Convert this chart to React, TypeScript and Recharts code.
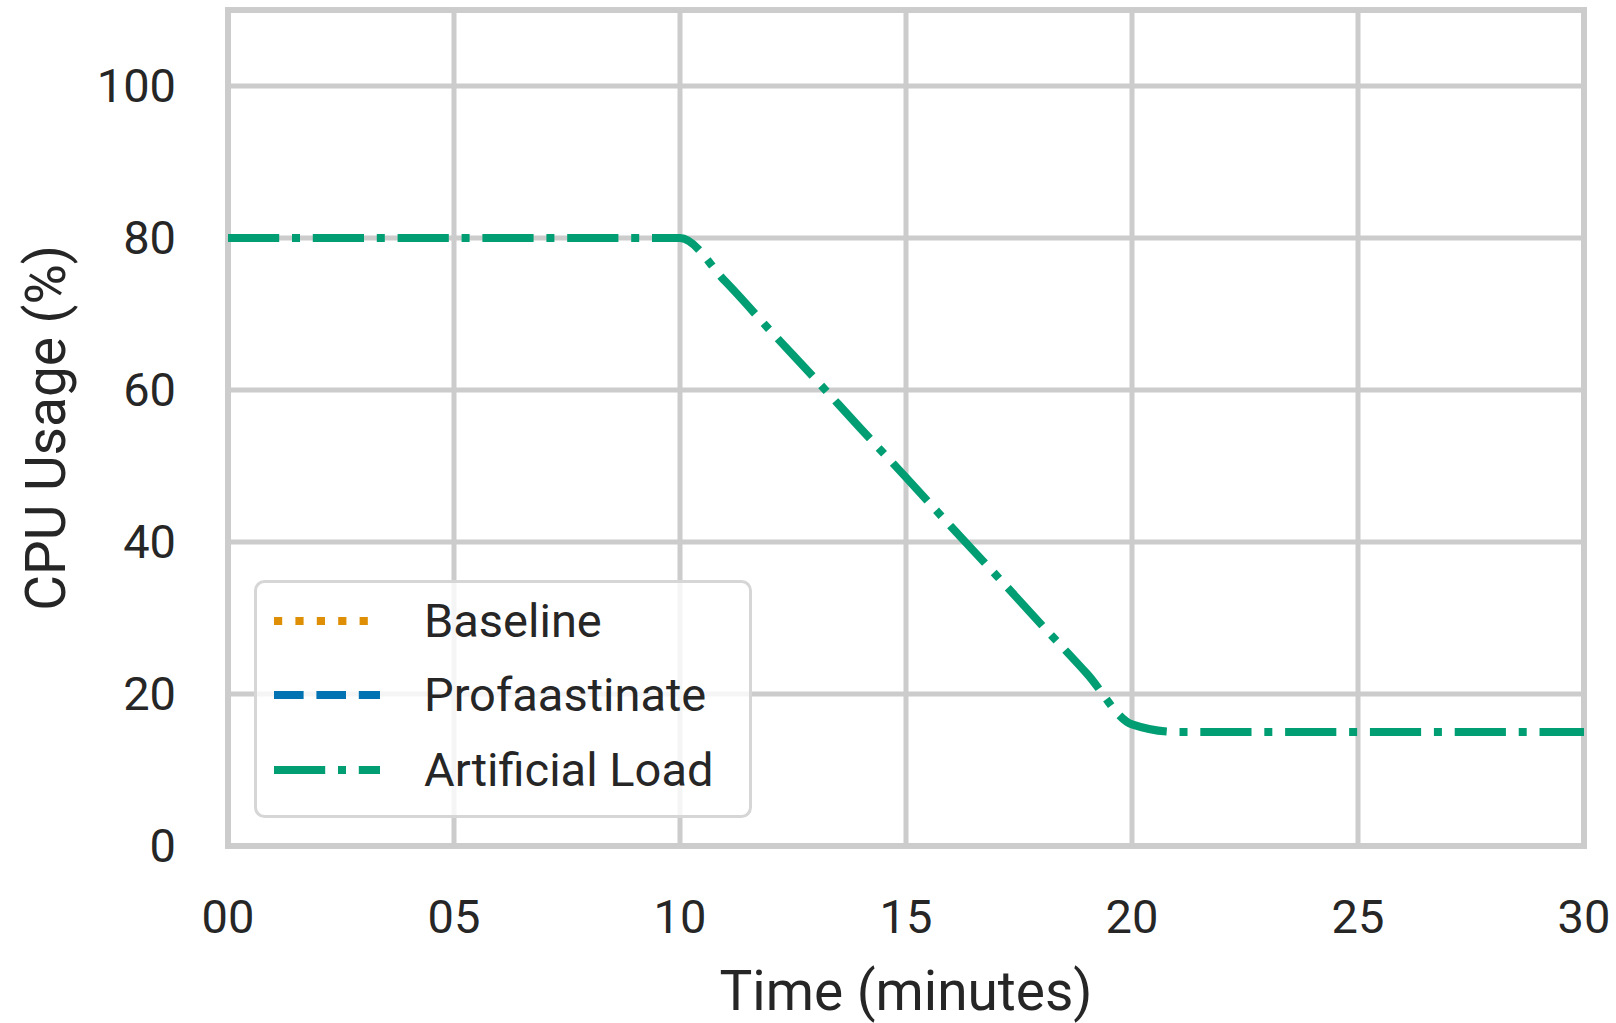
import React from 'react';
import { LineChart, Line, XAxis, YAxis, CartesianGrid, ReferenceArea } from 'recharts';

const minutes = [0, 1, 2, 3, 4, 5, 6, 7, 8, 9, 10, 11, 12, 13, 14, 15, 16, 17, 18, 19, 20, 21, 22, 23, 24, 25, 26, 27, 28, 29, 30];
const artificialLoad = [80, 80, 80, 80, 80, 80, 80, 80, 80, 80, 80, 74.3, 67.8, 61.4, 54.9, 48.5, 42.0, 35.6, 29.1, 22.7, 16.0, 15, 15, 15, 15, 15, 15, 15, 15, 15, 15];

const xTicks = [0, 5, 10, 15, 20, 25, 30];
const yTicks = [0, 20, 40, 60, 80, 100];

const seriesNames = ['Baseline', 'Profaastinate', 'Artificial Load'];
const seriesColors = ['#DE8F05', '#0173B2', '#029E73'];
const seriesDashes = ['8.2 13.2', '29.6 12.8', '51.2 12.8 8 12.8'];

const data = minutes.map((t, i) => ({ t, load: artificialLoad[i] }));

const FONT = 'Roboto, "Open Sans", sans-serif';
const TEXT = '#262626';
const GRID = '#cccccc';
const FS = 47;
const TITLE_FS = 55;

const XTick = (props: any) => (
  <text x={props.x} y={props.y} dy="0.35em" textAnchor="middle" fill={TEXT} fontSize={FS} fontFamily={FONT}>
    {String(props.payload.value).padStart(2, '0')}
  </text>
);

const YTick = (props: any) => (
  <text x={props.x} y={props.y} dy="0.35em" textAnchor="end" fill={TEXT} fontSize={FS} fontFamily={FONT}>
    {props.payload.value}
  </text>
);

const XLabel = (props: any) => {
  const vb = props.viewBox;
  return (
    <text x={vb.x + vb.width / 2} y={vb.y + 145} dy="0.35em" textAnchor="middle" fill={TEXT} fontSize={TITLE_FS} fontFamily={FONT}>
      Time (minutes)
    </text>
  );
};

const YLabel = (props: any) => {
  const vb = props.viewBox;
  const cx = vb.x + 46;
  const cy = vb.y + vb.height / 2;
  return (
    <text x={cx} y={cy} dy="0.35em" textAnchor="middle" fill={TEXT} fontSize={TITLE_FS} fontFamily={FONT} transform={`rotate(-90 ${cx} ${cy})`}>
      CPU Usage (%)
    </text>
  );
};

const LegendBox = () => {
  const w = 498;
  const h = 238;
  const rows = [41, 115, 190];
  return (
    <svg width={w} height={h} style={{ position: 'absolute', left: 254, top: 580 }}>
      <rect x={1.5} y={1.5} width={w - 3} height={h - 3} rx={9} ry={9} fill="#ffffff" fillOpacity={0.8} stroke="#d6d6d6" strokeWidth={3} />
      {seriesNames.map((name, i) => (
        <g key={name}>
          <line x1={20} x2={126} y1={rows[i]} y2={rows[i]} stroke={seriesColors[i]} strokeWidth={8} strokeDasharray={seriesDashes[i]} />
          <text x={170} y={rows[i]} dy="0.35em" fill={TEXT} fontSize={FS} fontFamily={FONT}>
            {name}
          </text>
        </g>
      ))}
    </svg>
  );
};

export default function App() {
  return (
    <div style={{ position: 'absolute', left: 0, top: 0, width: 1616, height: 1023, background: '#ffffff' }}>
      <LineChart width={1616} height={1023} data={data} margin={{ top: 10, right: 32, bottom: 0, left: 0 }}>
        <CartesianGrid stroke={GRID} strokeWidth={5} />
        <XAxis
          dataKey="t"
          type="number"
          domain={[0, 30]}
          ticks={xTicks}
          height={177}
          axisLine={false}
          tickLine={false}
          tickSize={0}
          tickMargin={71}
          tick={XTick}
          label={<XLabel />}
        />
        <YAxis
          type="number"
          domain={[0, 110]}
          ticks={yTicks}
          width={228}
          axisLine={false}
          tickLine={false}
          tickSize={0}
          tickMargin={52}
          tick={YTick}
          label={<YLabel />}
        />
        <Line
          dataKey="load"
          name="Artificial Load"
          type="monotone"
          stroke={seriesColors[2]}
          strokeWidth={8}
          strokeDasharray={seriesDashes[2]}
          dot={false}
          activeDot={false}
          isAnimationActive={false}
        />
        <ReferenceArea x1={0} x2={30} y1={0} y2={110} fill="none" fillOpacity={0} stroke={GRID} strokeWidth={6} ifOverflow="visible" />
      </LineChart>
      <LegendBox />
    </div>
  );
}
